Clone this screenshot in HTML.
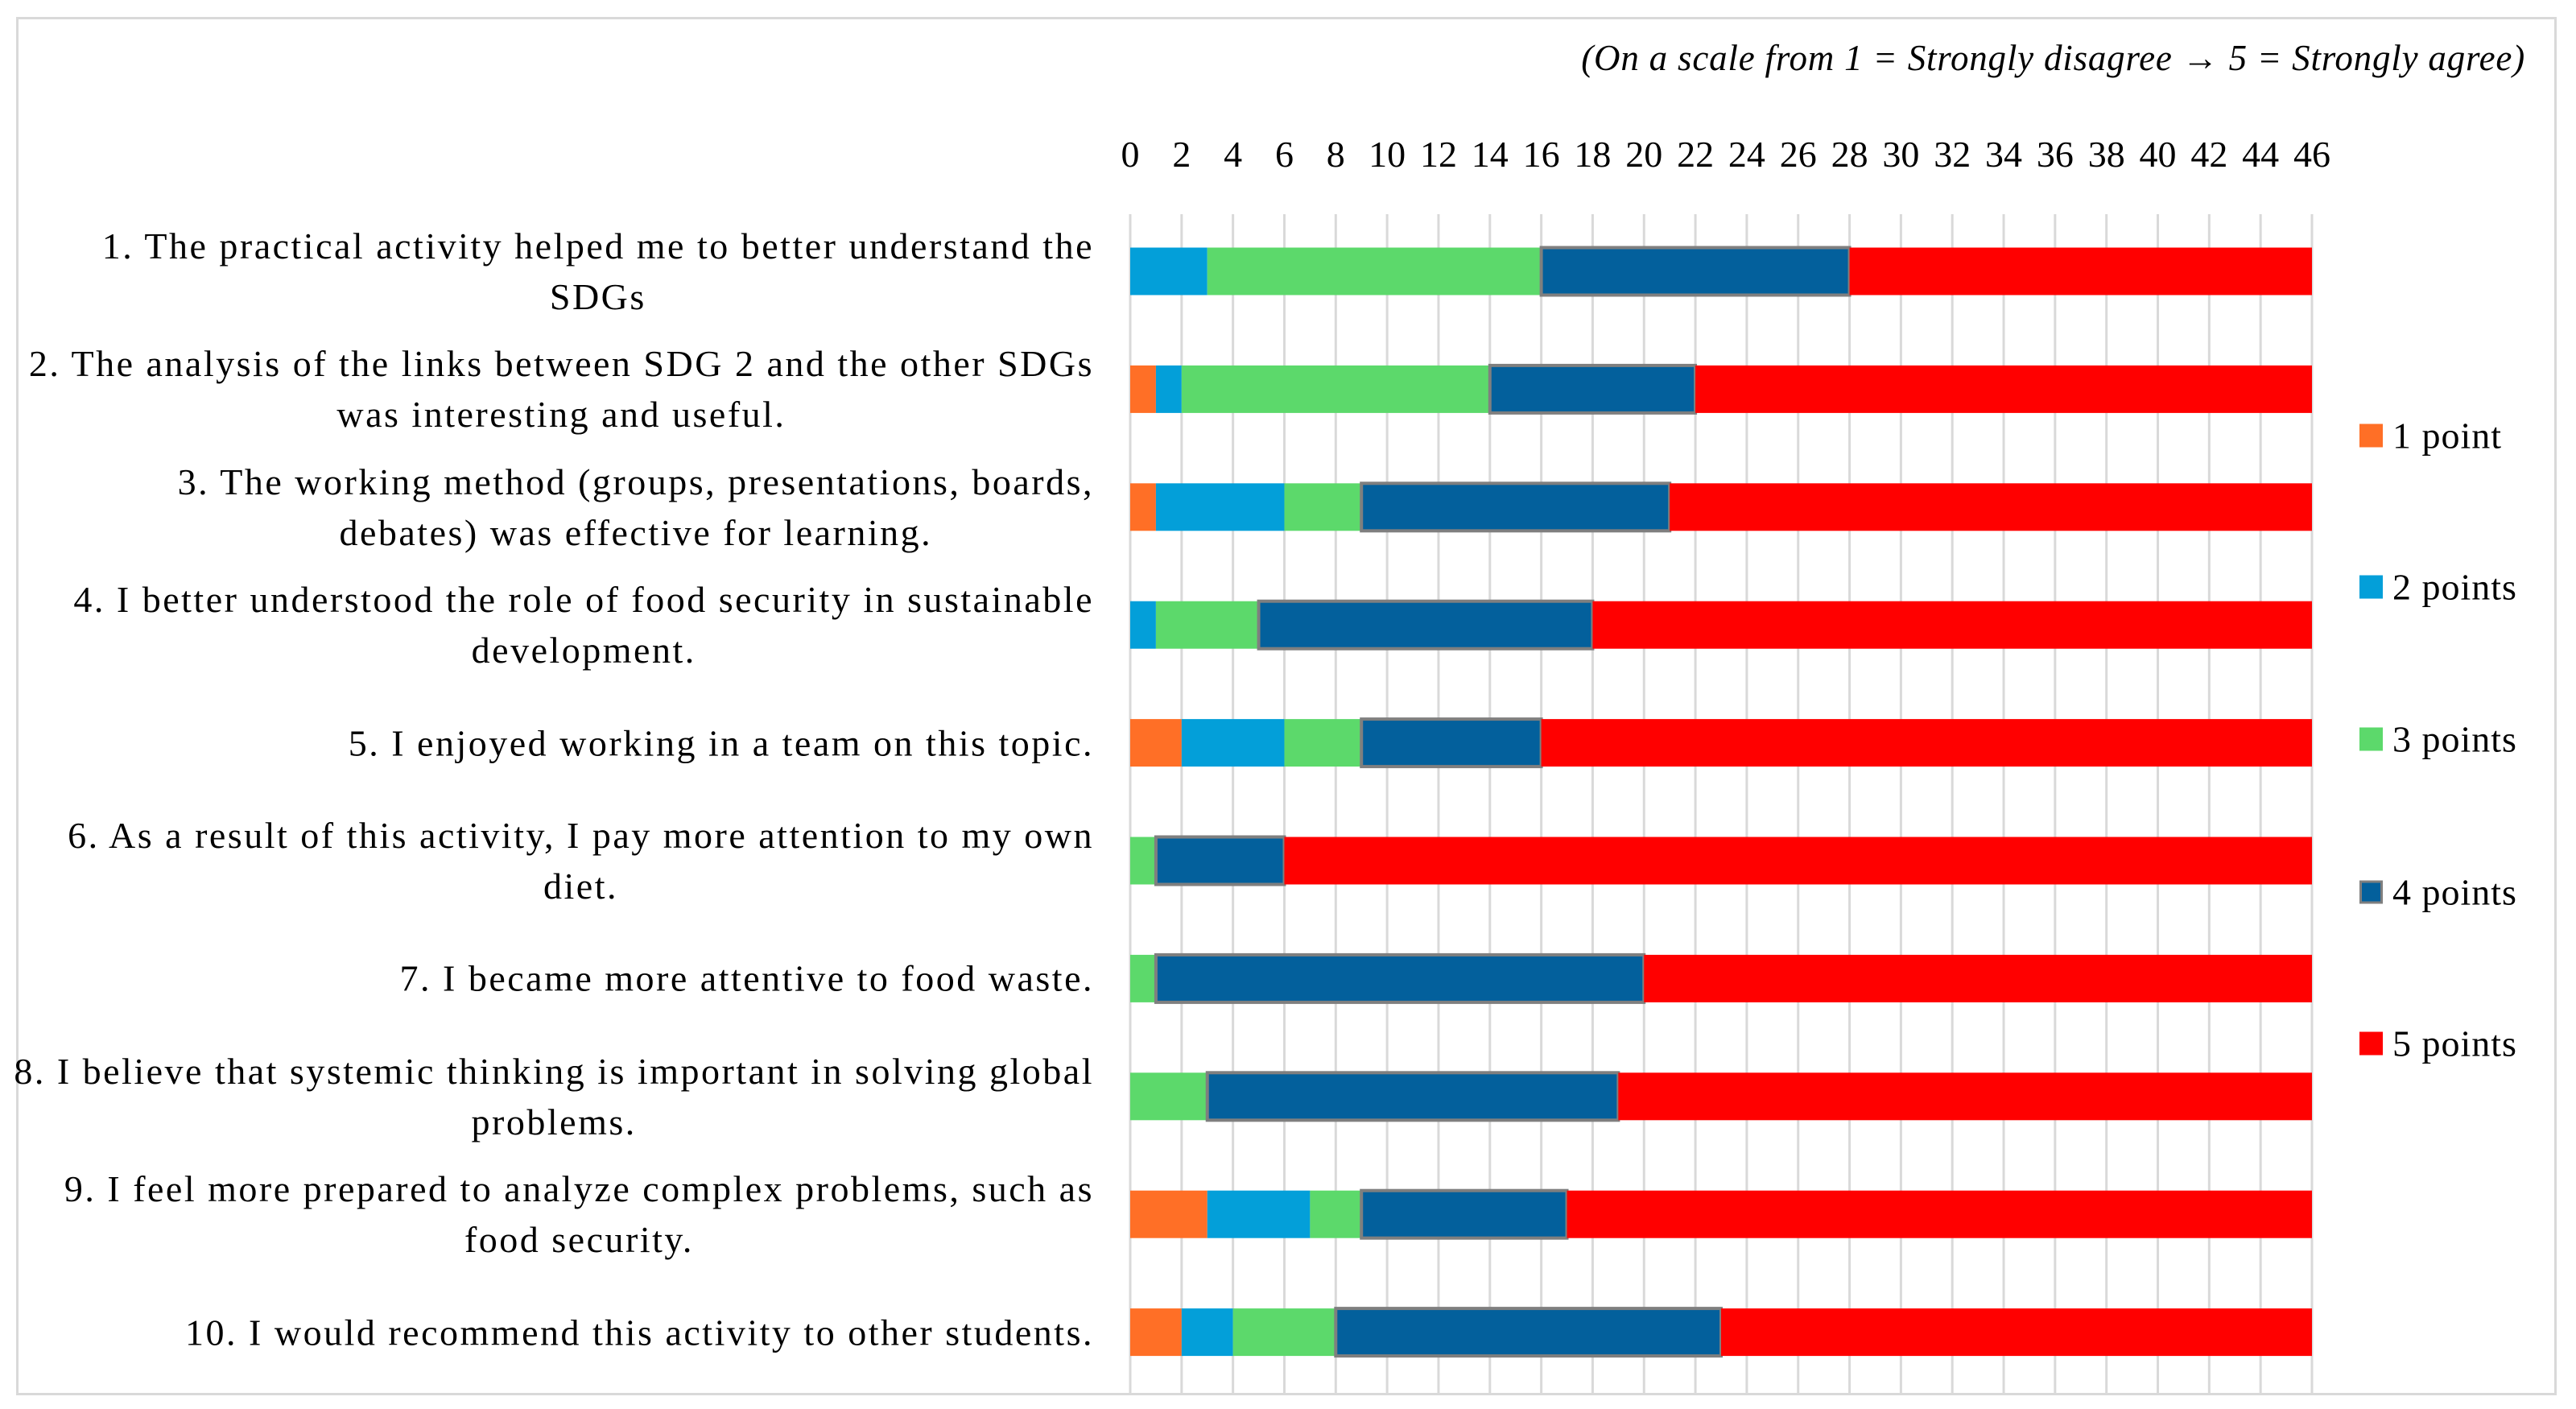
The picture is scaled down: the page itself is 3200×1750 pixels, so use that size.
<!DOCTYPE html>
<html><head><meta charset="utf-8">
<style>
html,body{margin:0;padding:0;background:#fff;}
#wrap{position:relative;width:3200px;height:1750px;overflow:hidden;font-family:"Liberation Serif",serif;color:#000;}
#frame{position:absolute;left:20px;top:21px;width:3156px;height:1712px;border:3px solid #d9d9d9;box-sizing:border-box;}
.lbl{position:absolute;text-align:center;white-space:nowrap;font-size:46px;line-height:63px;letter-spacing:2.5px;transform:translateY(-50%);}
#title{position:absolute;right:63px;top:46px;font-size:45px;font-style:italic;white-space:nowrap;letter-spacing:0.8px;}
.leg{position:absolute;left:2931px;font-size:46px;white-space:nowrap;transform:translateY(-50%);display:flex;align-items:center;letter-spacing:1px;}
.leg span.sw{display:inline-block;width:29px;height:29px;margin-right:12px;}
</style></head>
<body>
<div id="wrap">
<div id="frame"></div>
<div id="title">(On a scale from 1 = Strongly disagree → 5 = Strongly agree)</div>
<svg id="plot" width="3200" height="1750" style="position:absolute;left:0;top:0"></svg>
<div id="labels"></div>
<div id="legend"></div>
</div>
<script>
const categories=[
"1. The practical activity helped me to better understand the<br>SDGs",
"2. The analysis of the links between SDG 2 and the other SDGs<br>was interesting and useful.",
"3. The working method (groups, presentations, boards,<br>debates) was effective for learning.",
"4. I better understood the role of food security in sustainable<br>development.",
"5. I enjoyed working in a team on this topic.",
"6. As a result of this activity, I pay more attention to my own<br>diet.",
"7. I became more attentive to food waste.",
"8. I believe that systemic thinking is important in solving global<br>problems.",
"9. I feel more prepared to analyze complex problems, such as<br>food security.",
"10. I would recommend this activity to other students."];
const seriesNames=["1 point","2 points","3 points","4 points","5 points"];
const p1=[0,1,1,0,2,0,0,0,3,2];
const p2=[3,1,5,1,4,0,0,0,4,2];
const p3=[13,12,3,4,3,1,1,3,2,4];
const p4=[12,8,12,13,7,5,19,16,8,15];
const p5=[18,24,25,28,30,40,26,27,29,23];
const ticks=[0,2,4,6,8,10,12,14,16,18,20,22,24,26,28,30,32,34,36,38,40,42,44,46];
const colors=["#FF6F26","#039FD9","#5CD96B","#03609C","#FF0000"];
const series=[p1,p2,p3,p4,p5];
const X0=1404,X1=2872,XMAX=46,Y0=337,STEP=146.4,BH=59;
const xs=v=>X0+(X1-X0)*v/XMAX;
const yc=i=>Y0+i*STEP;
const NS="http://www.w3.org/2000/svg";
const svg=document.getElementById('plot');
ticks.forEach(t=>{
 const l=document.createElementNS(NS,'line');
 l.setAttribute('x1',xs(t));l.setAttribute('x2',xs(t));l.setAttribute('y1',266);l.setAttribute('y2',1731);
 l.setAttribute('stroke','#d9d9d9');l.setAttribute('stroke-width','3');
 
 
 svg.appendChild(l);
 const tx=document.createElementNS(NS,'text');
 tx.setAttribute('x',xs(t));tx.setAttribute('y',207);tx.setAttribute('text-anchor','middle');
 tx.setAttribute('font-size','46');tx.setAttribute('font-family','Liberation Serif, serif');
 tx.textContent=t;
 
 
 svg.appendChild(tx);
});
categories.forEach((c,i)=>{
 let acc=0;
 series.forEach((s,k)=>{
  const v=s[i];
  if(v>0){
   const r=document.createElementNS(NS,'rect');
   r.setAttribute('x',xs(acc));r.setAttribute('width',xs(acc+v)-xs(acc));
   r.setAttribute('y',yc(i)-BH/2);r.setAttribute('height',BH);
   r.setAttribute('fill',colors[k]);
   if(k===3){r.setAttribute('stroke','#7f7f7f');r.setAttribute('stroke-width','4');}
   
   
   svg.appendChild(r);
  }
  acc+=v;
 });
 const d=document.createElement('div');
 d.className='lbl';
 d.style.right=(3200-1359)+'px';
 d.style.top=yc(i)+'px';
 d.innerHTML=c;
 
 
 document.getElementById('labels').appendChild(d);
});
const legY=[541,729,918,1108,1296];
seriesNames.forEach((n,k)=>{
 const d=document.createElement('div');
 d.className='leg';
 d.style.top=legY[k]+'px';
 d.innerHTML='<span class="sw" style="background:'+colors[k]+(k===3?';box-shadow:inset 0 0 0 3px #7f7f7f':'')+'"></span>'+n;
 
 
 document.getElementById('legend').appendChild(d);
});
</script>
</body></html>
